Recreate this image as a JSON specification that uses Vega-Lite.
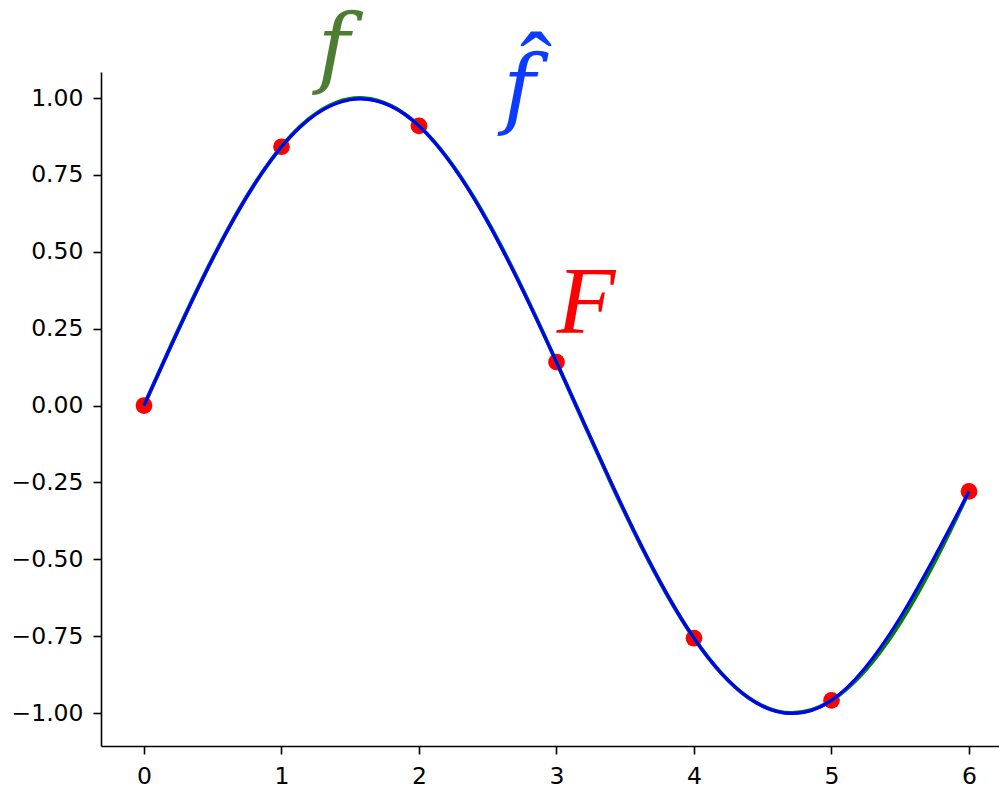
{
  "$schema": "https://vega.github.io/schema/vega-lite/v6.json",
  "autosize": {"type": "none"},
  "padding": {"left": 101, "top": 72, "right": 0, "bottom": 41},
  "width": 898,
  "height": 674,
  "background": "white",
  "config": {
    "view": {"stroke": null},
    "axis": {
      "grid": false,
      "title": null,
      "labelFont": "DejaVu Sans",
      "labelFontSize": 23.5,
      "labelColor": "#000000",
      "domainColor": "#000000",
      "domainWidth": 1.6,
      "tickColor": "#000000",
      "tickWidth": 1.6,
      "tickSize": 8
    }
  },
  "datasets": {
    "sine": [
      {"x": 0.0, "y": 0.0}, {"x": 0.2, "y": 0.1987}, {"x": 0.4, "y": 0.3894},
      {"x": 0.6, "y": 0.5646}, {"x": 0.8, "y": 0.7174}, {"x": 1.0, "y": 0.8415},
      {"x": 1.2, "y": 0.932}, {"x": 1.4, "y": 0.9854}, {"x": 1.6, "y": 0.9996},
      {"x": 1.8, "y": 0.9738}, {"x": 2.0, "y": 0.9093}, {"x": 2.2, "y": 0.8085},
      {"x": 2.4, "y": 0.6755}, {"x": 2.6, "y": 0.5155}, {"x": 2.8, "y": 0.335},
      {"x": 3.0, "y": 0.1411}, {"x": 3.2, "y": -0.0584}, {"x": 3.4, "y": -0.2555},
      {"x": 3.6, "y": -0.4425}, {"x": 3.8, "y": -0.6119}, {"x": 4.0, "y": -0.7568},
      {"x": 4.2, "y": -0.8716}, {"x": 4.4, "y": -0.9516}, {"x": 4.6, "y": -0.9937},
      {"x": 4.8, "y": -0.9962}, {"x": 5.0, "y": -0.9589}, {"x": 5.2, "y": -0.8835},
      {"x": 5.4, "y": -0.7728}, {"x": 5.6, "y": -0.6313}, {"x": 5.8, "y": -0.4646},
      {"x": 6.0, "y": -0.2794}
    ],
    "nodes": [
      {"x": 0, "y": 0.0}, {"x": 1, "y": 0.8415}, {"x": 2, "y": 0.9093},
      {"x": 3, "y": 0.1411}, {"x": 4, "y": -0.7568}, {"x": 5, "y": -0.9589},
      {"x": 6, "y": -0.2794}
    ],
    "label_f": [{"x": 1.38, "y": 1.068, "text": "f"}],
    "label_fhat": [{"x": 2.73, "y": 0.935, "text": "f"}],
    "label_hat": [{"x": 2.85, "y": 1.0, "text": "ˆ"}],
    "label_F": [{"x": 3.215, "y": 0.236, "text": "F"}]
  },
  "encoding": {
    "x": {
      "field": "x", "type": "quantitative",
      "scale": {"domain": [-0.3127, 6.2182], "nice": false, "zero": false},
      "axis": {"values": [0, 1, 2, 3, 4, 5, 6], "format": "d", "labelPadding": 10}
    },
    "y": {
      "field": "y", "type": "quantitative",
      "scale": {"domain": [-1.1073, 1.0846], "nice": false, "zero": false},
      "axis": {"values": [-1, -0.75, -0.5, -0.25, 0, 0.25, 0.5, 0.75, 1], "format": ".2f", "labelPadding": 10}
    }
  },
  "layer": [
    {
      "data": {"name": "nodes"},
      "mark": {"type": "circle", "color": "#ff0000", "size": 280, "opacity": 1}
    },
    {
      "data": {"name": "sine"},
      "mark": {"type": "line", "color": "#008000", "strokeWidth": 4, "interpolate": "natural"}
    },
    {
      "data": {"name": "nodes"},
      "mark": {"type": "line", "color": "#0000ff", "strokeWidth": 3.2, "interpolate": "natural"}
    },
    {
      "data": {"name": "label_f"},
      "mark": {"type": "text", "font": "DejaVu Serif", "fontStyle": "italic", "fontSize": 88, "color": "#4d7d32", "align": "center", "baseline": "alphabetic"},
      "encoding": {"text": {"field": "text"}}
    },
    {
      "data": {"name": "label_fhat"},
      "mark": {"type": "text", "font": "DejaVu Serif", "fontStyle": "italic", "fontSize": 88, "color": "#0b3cff", "align": "center", "baseline": "alphabetic"},
      "encoding": {"text": {"field": "text"}}
    },
    {
      "data": {"name": "label_hat"},
      "mark": {"type": "text", "font": "Liberation Serif", "fontSize": 96, "color": "#0b3cff", "align": "center", "baseline": "alphabetic"},
      "encoding": {"text": {"field": "text"}}
    },
    {
      "data": {"name": "label_F"},
      "mark": {"type": "text", "font": "Liberation Serif", "fontStyle": "italic", "fontSize": 96, "color": "#ff0000", "align": "center", "baseline": "alphabetic"},
      "encoding": {"text": {"field": "text"}}
    }
  ]
}
